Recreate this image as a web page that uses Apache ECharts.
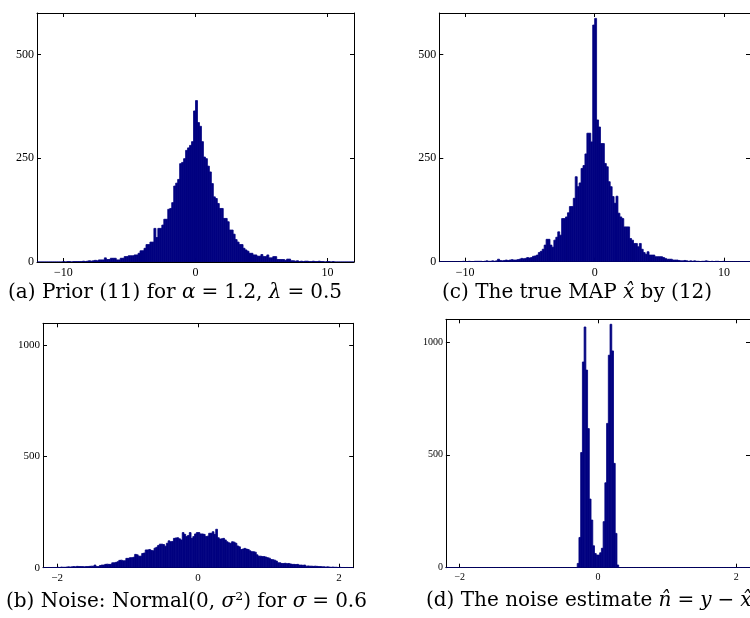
<!DOCTYPE html>
<html>
<head>
<meta charset="utf-8">
<script src="https://cdn.jsdelivr.net/npm/echarts@6/dist/echarts.min.js"></script>
<style>html,body{margin:0;padding:0;background:#fff}#c{width:750px;height:618px}</style>
</head>
<body>
<div id="c"></div>
<script>
// ---- data: histogram bin counts (bins start at binStart, width binWidth) ----
const binStartA = -12, binWidthA = 0.15;
const countsA = [
 0,0,0,0,0,0,0,0,0,0,
 0,0,0,1,0,1,1,0,1,1,
 1,1,1,2,1,2,3,2,3,4,
 3,5,5,5,10,6,6,9,9,9,
 5,5,9,9,13,13,15,15,15,17,
 17,21,27,27,33,42,42,48,48,81,
 59,81,81,89,103,103,127,129,143,183,
 190,199,237,240,249,269,275,281,290,364,
 389,336,327,290,253,249,231,217,189,157,
 153,141,129,129,105,105,97,77,77,67,
 54,48,42,42,33,29,26,21,21,17,
 17,14,14,18,13,13,17,10,10,13,
 13,6,6,6,6,4,7,7,3,3,
 2,3,1,2,1,2,2,1,1,2,
 1,1,2,1,1,0,1,1,0,1,
 0,0,0,0,0,0,0,0,0,0
];
const binStartC = -12, binWidthC = 0.15;
const countsC = [
 0,0,0,0,0,0,0,0,0,0,
 0,0,1,0,0,1,0,0,1,1,
 1,1,0,1,2,1,1,2,1,2,
 6,3,2,3,4,3,4,5,4,4,
 5,6,8,7,8,10,9,10,13,14,
 16,22,25,30,40,54,54,40,35,52,
 59,72,64,104,104,108,118,133,133,153,
 205,181,190,225,232,260,310,310,289,571,
 587,342,325,285,285,237,229,193,181,157,
 141,158,117,108,104,84,84,84,56,52,
 44,44,36,44,30,22,18,24,16,16,
 16,12,12,12,12,10,8,6,6,6,
 4,4,4,3,2,2,3,2,1,2,
 1,2,1,1,0,1,1,2,1,0,
 1,0,1,1,0,0,1,0,0,0,
 0,0,0,0,0,0,0,0,0,0
];
const binStartB = -2.2, binWidthB = 0.025;
const countsB = [
 0,0,0,1,0,1,1,1,2,1,
 3,2,2,3,4,3,4,5,4,6,
 5,5,5,4,5,5,6,7,7,12,
 5,5,10,12,12,15,16,15,15,22,
 22,24,27,33,34,31,31,42,42,45,
 45,47,60,58,52,52,64,66,80,80,
 82,78,76,88,92,100,106,106,104,97,
 110,121,117,118,132,134,135,130,125,158,
 150,140,145,158,132,140,152,158,158,152,
 152,150,140,142,155,155,162,150,173,135,
 129,130,132,125,117,112,110,117,115,110,
 98,94,82,84,87,84,82,76,72,72,
 70,58,52,52,50,50,48,45,43,37,
 36,34,30,22,22,19,19,20,18,19,
 17,15,15,14,15,12,12,11,12,7,
 8,7,7,6,7,6,5,5,4,4,
 3,4,3,2,3,2,2,1,2,1,
 1,0,1,0,0,0
];
const binStartD = -2.2, binWidthD = 0.025;
const countsD = [
 0,0,0,0,0,0,0,0,0,0, 0,0,0,0,0,0,0,0,0,0,
 0,0,0,0,0,0,0,0,0,0, 0,0,0,0,0,0,0,0,0,0,
 0,0,0,0,0,0,0,0,0,0, 0,0,0,0,0,0,0,0,0,0,
 0,0,0,0,0,0,0,0,0,0,
 0,0,0,0,0,0,19,134,510,911,
 1066,875,616,304,211,97,63,56,56,66,
 86,204,376,639,941,1078,960,462,152,12,
 0,0,0,0,0,0,0,0,0,0, 0,0,0,0,0,0,0,0,0,0,
 0,0,0,0,0,0,0,0,0,0, 0,0,0,0,0,0,0,0,0,0,
 0,0,0,0,0,0,0,0,0,0, 0,0,0,0,0,0,0,0,0,0,
 0,0,0,0,0,0,0,0,0,0, 0,0,0,0,0,0
];
const xTicksWide = [-10, 0, 10];
const xTicksNarrow = [-2, 0, 2];
const yTicksTop = [0, 250, 500];
const yTicksBottom = [0, 500, 1000];

// ---- chart ----
const FONT = 'Liberation Serif';
const CAPFONT = 'DejaVu Serif';
const CAPSIZE = 20;
const NAVY = '#000080';
function toBins(start, width, counts) {
  return counts.map((c, i) => [start + i * width, start + (i + 1) * width, c]);
}
const panels = [
  {grid: {left: 37, top: 13, width: 317, height: 249}, xr: [-12, 12], yr: [0, 600], xt: xTicksWide, yt: yTicksTop, data: toBins(binStartA, binWidthA, countsA), fs: 12},
  {grid: {left: 439.3, top: 13, width: 317.3, height: 248.7}, xr: [-12, 12], yr: [0, 600], xt: xTicksWide, yt: yTicksTop, data: toBins(binStartC, binWidthC, countsC), fs: 12},
  {grid: {left: 43, top: 323.3, width: 310.2, height: 244.4}, xr: [-2.2, 2.2], yr: [0, 1100], xt: xTicksNarrow, yt: yTicksBottom, data: toBins(binStartB, binWidthB, countsB), fs: 11},
  {grid: {left: 445.9, top: 319.3, width: 310.2, height: 248.4}, xr: [-2.2, 2.2], yr: [0, 1100], xt: xTicksNarrow, yt: yTicksBottom, data: toBins(binStartD, binWidthD, countsD), fs: 10}
];
const fmt = v => String(v).replace('-', '\u2212');
const grids = [], xAxes = [], yAxes = [], series = [];
panels.forEach((p, i) => {
  grids.push(Object.assign({containLabel: false, show: false}, p.grid));
  const line = {show: true, onZero: false, lineStyle: {color: '#000', width: 1}};
  const tick = vals => ({show: true, inside: true, length: 4, customValues: vals, lineStyle: {color: '#000', width: 1}});
  const lab = (vals, m) => ({show: true, customValues: vals, formatter: fmt, fontFamily: FONT, fontSize: p.fs, color: '#000', margin: m});
  xAxes.push({type: 'value', gridIndex: i, min: p.xr[0], max: p.xr[1], position: 'bottom', axisLine: line, axisTick: tick(p.xt), axisLabel: lab(p.xt, 5), splitLine: {show: false}});
  xAxes.push({type: 'value', gridIndex: i, min: p.xr[0], max: p.xr[1], position: 'top', axisLine: line, axisTick: tick(p.xt), axisLabel: {show: false}, splitLine: {show: false}});
  yAxes.push({type: 'value', gridIndex: i, min: p.yr[0], max: p.yr[1], position: 'left', axisLine: line, axisTick: tick(p.yt), axisLabel: lab(p.yt, 3), splitLine: {show: false}});
  yAxes.push({type: 'value', gridIndex: i, min: p.yr[0], max: p.yr[1], position: 'right', axisLine: line, axisTick: tick(p.yt), axisLabel: {show: false}, splitLine: {show: false}});
  series.push({
    type: 'custom', xAxisIndex: 2 * i, yAxisIndex: 2 * i, clip: true, silent: true,
    encode: {x: [0, 1], y: 2},
    data: p.data,
    renderItem: function (params, api) {
      const a = api.coord([api.value(0), 0]);
      const b = api.coord([api.value(1), api.value(2)]);
      return {type: 'rect', shape: {x: a[0], y: b[1], width: b[0] - a[0], height: a[1] - b[1]},
        style: {fill: NAVY, stroke: NAVY, lineWidth: 0.8}};
    }
  });
});
const rich = {
  n: {fontFamily: CAPFONT, fontSize: CAPSIZE, color: '#000'},
  i: {fontFamily: CAPFONT, fontSize: CAPSIZE, color: '#000', fontStyle: 'italic'},
  o: {fontFamily: CAPFONT, fontSize: CAPSIZE, color: '#000', padding: [0, 6, 0, 6]}
};
const cap = (text, left, top) => ({text, left, top, textStyle: {fontFamily: CAPFONT, fontSize: CAPSIZE, fontWeight: 'normal', color: '#000', rich}});
const chart = echarts.init(document.getElementById('c'), null, {renderer: 'canvas'});
chart.setOption({
  animation: false,
  backgroundColor: '#fff',
  title: [
    cap('{n|(a) Prior (11) for }{i|α}{o|=}{n|1.2, }{i|λ}{o|=}{n|0.5}', 3, 278),
    cap('{n|(c) The true MAP }{i|x\u0302}{n| by (12)}', 437, 278),
    cap('{n|(b) Noise: Normal(0, }{i|σ}{n|²) for }{i|σ}{o|=}{n|0.6}', 1, 587),
    cap('{n|(d) The noise estimate }{i|n\u0302}{o|=}{i|y}{o|\u2212}{i|x\u0302}', 421, 586)
  ],
  grid: grids, xAxis: xAxes, yAxis: yAxes, series
});
</script>
</body>
</html>
